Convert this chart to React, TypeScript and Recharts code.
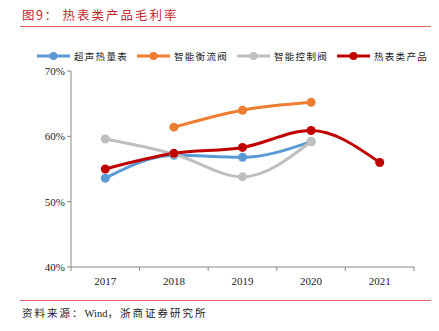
import React from 'react';
import { LineChart, Line, XAxis, YAxis } from 'recharts';

const years = ['2017', '2018', '2019', '2020', '2021'];
const ultrasonic = [53.6, 57.1, 56.8, 59.2, null];
const balanceValve = [null, 61.4, 64.0, 65.2, null];
const controlValve = [59.6, 57.3, 53.8, 59.2, null];
const heatMeterAll = [55.0, 57.4, 58.3, 60.9, 56.0];
const yTicks = [40, 50, 60, 70];

const series = [
  { key: 'ultrasonic', name: '超声热量表', color: '#5B9BD5', values: ultrasonic },
  { key: 'balance', name: '智能衡流阀', color: '#ED7D31', values: balanceValve },
  { key: 'control', name: '智能控制阀', color: '#BFBFBF', values: controlValve },
  { key: 'all', name: '热表类产品', color: '#C00000', values: heatMeterAll },
];

const data = years.map((year, i) => {
  const row: Record<string, any> = { year };
  series.forEach((s) => {
    row[s.key] = s.values[i];
  });
  return row;
});

const W = 439;
const H = 300;
const plotLeft = 71;
const plotRight = 414;
const band = (plotRight - plotLeft) / years.length;
const serif = '"Liberation Serif", "Times New Roman", serif';
const cjk = '"Noto Sans CJK SC", sans-serif';

const XTick = (props: any) => {
  const { x, y, payload, index } = props;
  return (
    <g>
      <line x1={x - band / 2} y1={y - 8} x2={x - band / 2} y2={y - 4} stroke="#888" />
      {index === years.length - 1 && (
        <line x1={x + band / 2} y1={y - 8} x2={x + band / 2} y2={y - 4} stroke="#888" />
      )}
      <text x={x} y={y + 10} textAnchor="middle" fontFamily={serif} fontSize={11} fill="#222">
        {payload.value}
      </text>
    </g>
  );
};

export default function App() {
  return (
    <div style={{ position: 'absolute', left: 0, top: 0, width: W, height: 331, background: '#fff' }}>
      <div
        style={{
          position: 'absolute',
          left: 22,
          top: 5,
          fontFamily: cjk,
          fontSize: 12.5,
          color: '#C0282D',
          whiteSpace: 'nowrap',
          letterSpacing: 1.5,
        }}
      >
        图9：<span style={{ marginLeft: 4, letterSpacing: 2 }}>热表类产品毛利率</span>
      </div>
      <div style={{ position: 'absolute', left: 20, top: 26, width: 411, height: 1, background: '#E06666' }} />

      <div style={{ position: 'absolute', left: 37, top: 49, display: 'flex', whiteSpace: 'nowrap' }}>
        {series.map((s) => (
          <div key={s.key} style={{ display: 'flex', alignItems: 'center', width: 100 }}>
            <svg width={34} height={12}>
              <line x1={0} y1={6} x2={33} y2={6} stroke={s.color} strokeWidth={3} />
              <circle cx={16.5} cy={6} r={4} fill={s.color} />
            </svg>
            <span style={{ fontFamily: cjk, fontSize: 9.5, letterSpacing: 1.3, color: '#222', marginLeft: 3 }}>
              {s.name}
            </span>
          </div>
        ))}
      </div>

      <div style={{ position: 'absolute', left: 0, top: 0 }}>
        <LineChart width={W} height={H} data={data} margin={{ top: 71, right: W - plotRight, left: 11, bottom: 3 }}>
          <XAxis
            dataKey="year"
            scale="band"
            height={30}
            tickLine={false}
            axisLine={{ stroke: '#888' }}
            tick={<XTick />}
            interval={0}
          />
          <YAxis
            domain={[40, 70]}
            ticks={yTicks}
            width={60}
            tickSize={4}
            tickLine={{ stroke: '#888' }}
            axisLine={{ stroke: '#888' }}
            tickFormatter={(v: number) => `${v}%`}
            tick={{ fontFamily: serif, fontSize: 11, fill: '#222' }}
          />
          {series.map((s) => (
            <Line
              key={s.key}
              dataKey={s.key}
              name={s.name}
              type="monotone"
              stroke={s.color}
              strokeWidth={3}
              dot={{ r: 4.5, fill: s.color, stroke: s.color, strokeWidth: 0 }}
              activeDot={false}
              isAnimationActive={false}
            />
          ))}
        </LineChart>
      </div>

      <div style={{ position: 'absolute', left: 20, top: 300, width: 411, height: 1, background: '#E06666' }} />
      <div
        style={{
          position: 'absolute',
          left: 22,
          top: 305,
          fontFamily: cjk,
          fontSize: 10.5,
          color: '#222',
          whiteSpace: 'nowrap',
          letterSpacing: 2,
        }}
      >
        资料来源：<span style={{ fontFamily: serif, letterSpacing: 0 }}>Wind</span>，浙商证券研究所
      </div>
    </div>
  );
}
